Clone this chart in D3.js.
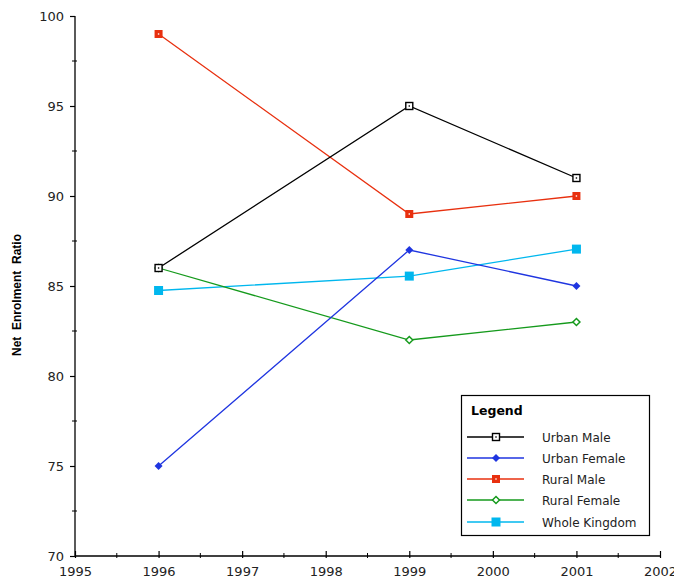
<!DOCTYPE html>
<html><head><meta charset="utf-8">
<script src="https://cdn.jsdelivr.net/npm/d3@7"></script>
<style>body{margin:0;background:#fff}svg{display:block}text{font-family:"DejaVu Sans",Verdana,sans-serif}</style>
</head><body><svg id="c" width="674" height="580"></svg>
<script>
const years = [1996, 1999, 2001];
const urbanMale = [86, 95, 91];
const urbanFemale = [75, 87, 85];
const ruralMale = [99, 89, 90];
const ruralFemale = [86, 82, 83];
const wholeKingdom = [84.75, 85.55, 87.05];
const seriesNames = ["Urban Male", "Urban Female", "Rural Male", "Rural Female", "Whole Kingdom"];
const xTicks = [1995, 1996, 1997, 1998, 1999, 2000, 2001, 2002];
const yTicks = [70, 75, 80, 85, 90, 95, 100];
const yLabel = "Net\u00a0\u00a0Enrolment\u00a0\u00a0Ratio";

const series = [
  {name: seriesNames[0], values: urbanMale, color: "#000000", marker: "hsq"},
  {name: seriesNames[1], values: urbanFemale, color: "#1f35e0", marker: "fdia"},
  {name: seriesNames[2], values: ruralMale, color: "#e8300f", marker: "rsq"},
  {name: seriesNames[3], values: ruralFemale, color: "#159a1c", marker: "hdia"},
  {name: seriesNames[4], values: wholeKingdom, color: "#00b7ee", marker: "fsq"}
];

const svg = d3.select("#c");
const x = d3.scaleLinear().domain([1995, 2002]).range([75, 660]);
const y = d3.scaleLinear().domain([70, 100]).range([556, 16]);

// Y axis
const yAx = svg.append("g").attr("transform", "translate(75,0)")
  .call(d3.axisLeft(y).tickValues(yTicks).tickSize(5).tickPadding(6).tickFormat(d3.format("d")));
yAx.select(".domain").attr("d", `M0,${y(100)}V${y(70)}`).attr("stroke-width", 1.3);
yAx.selectAll(".tick line").attr("stroke-width", 1.2);
yAx.selectAll("text").attr("font-size", 13).attr("fill", "#222");
const yMinor = d3.range(72.5, 100, 5);
svg.append("g").selectAll("line").data(yMinor).join("line")
  .attr("x1", 72).attr("x2", 77).attr("y1", d => y(d)).attr("y2", d => y(d)).attr("stroke", "#000");

// X axis
const xAx = svg.append("g").attr("transform", "translate(0,556)")
  .call(d3.axisBottom(x).tickValues(xTicks).tickSize(2).tickPadding(9).tickFormat(d3.format("d")));
xAx.select(".domain").attr("d", `M${x(1995)},0H${x(2002)}`).attr("stroke-width", 1.3);
xAx.selectAll(".tick line").attr("y1", -5).attr("y2", 2).attr("stroke-width", 1.2);
xAx.selectAll("text").attr("font-size", 13).attr("fill", "#222");
const xMinor = d3.range(1995.5, 2002, 1);
svg.append("g").selectAll("line").data(xMinor).join("line")
  .attr("x1", d => x(d)).attr("x2", d => x(d)).attr("y1", 553).attr("y2", 558).attr("stroke", "#000");

// Y title
svg.append("text").attr("transform", `translate(21,${y(84.5)}) rotate(-90)`)
  .attr("text-anchor", "middle").attr("font-size", 12).attr("font-weight", "bold")
  .style("font-family", "'Liberation Sans', Arial, sans-serif").text(yLabel);

function drawMarker(g, type, color, cx, cy) {
  if (type === "hsq") {
    g.append("rect").attr("x", cx - 3.5).attr("y", cy - 3.5).attr("width", 7).attr("height", 7)
      .attr("fill", "#fff").attr("stroke", color).attr("stroke-width", 1.4);
    g.append("rect").attr("x", cx - 0.7).attr("y", cy - 0.7).attr("width", 1.4).attr("height", 1.4).attr("fill", color);
  } else if (type === "fdia") {
    g.append("path").attr("d", `M${cx},${cy-4}L${cx+4},${cy}L${cx},${cy+4}L${cx-4},${cy}Z`).attr("fill", color);
  } else if (type === "rsq") {
    g.append("rect").attr("x", cx - 4).attr("y", cy - 4).attr("width", 8).attr("height", 8).attr("fill", color);
    g.append("rect").attr("x", cx - 0.7).attr("y", cy - 0.7).attr("width", 1.4).attr("height", 1.4).attr("fill", "#fff");
  } else if (type === "hdia") {
    g.append("path").attr("d", `M${cx},${cy-3.5}L${cx+3.5},${cy}L${cx},${cy+3.5}L${cx-3.5},${cy}Z`)
      .attr("fill", "#fff").attr("stroke", color).attr("stroke-width", 1.5);
  } else if (type === "fsq") {
    g.append("rect").attr("x", cx - 4.5).attr("y", cy - 4.5).attr("width", 9).attr("height", 9).attr("fill", color);
  }
}

const line = d3.line().x(d => x(d[0])).y(d => y(d[1]));
const drawOrder = [4, 3, 1, 2, 0];
drawOrder.forEach(i => {
  const s = series[i];
  const pts = years.map((yr, j) => [yr, s.values[j]]);
  const g = svg.append("g");
  g.append("path").attr("d", line(pts)).attr("fill", "none").attr("stroke", s.color).attr("stroke-width", 1.3);
  pts.forEach(p => drawMarker(g, s.marker, s.color, x(p[0]), y(p[1])));
});

// Legend
const lg = svg.append("g");
lg.append("rect").attr("x", 461.5).attr("y", 395.5).attr("width", 188).attr("height", 140)
  .attr("fill", "#fff").attr("stroke", "#000").attr("stroke-width", 1.2);
lg.append("text").attr("x", 471).attr("y", 415).attr("font-size", 12.5).attr("font-weight", "bold").text("Legend");
const rowY = [437, 458, 479, 500, 522];
series.forEach((s, i) => {
  const ry = rowY[i];
  lg.append("line").attr("x1", 467).attr("x2", 524).attr("y1", ry).attr("y2", ry)
    .attr("stroke", s.color).attr("stroke-width", 1.3);
  drawMarker(lg, s.marker, s.color, 496, ry);
  lg.append("text").attr("x", 542).attr("y", ry + 4.5).attr("font-size", 12).attr("fill", "#222").text(s.name);
});
</script></body></html>
